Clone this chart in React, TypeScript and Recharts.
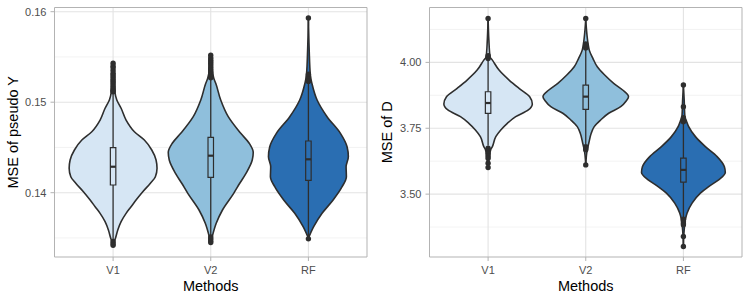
import React from 'react';
import { ComposedChart, Area, XAxis, YAxis, CartesianGrid, ReferenceLine, ReferenceDot, ReferenceArea } from 'recharts';

const methods = ['V1', 'V2', 'RF'];
const fills = ['#d6e6f4', '#8fbfdc', '#2a6eb2'];

// ---- Panel 1: MSE of pseudo Y ----  [value, half-width of violin]
const pyViolinV1: [number, number][] = [
  [0.13422, 0], [0.13496, 0.024], [0.13588, 0.048], [0.1368, 0.082], [0.13772, 0.133], [0.13845, 0.184],
  [0.13919, 0.235], [0.14011, 0.304], [0.14104, 0.382], [0.14177, 0.433], [0.1427, 0.45], [0.14361, 0.44],
  [0.14472, 0.396], [0.14582, 0.32], [0.14674, 0.218], [0.14803, 0.133], [0.14933, 0.082], [0.15024, 0.038],
  [0.15113, 0.018], [0.15245, 0.01], [0.15436, 0],
];
const pyViolinV2: [number, number][] = [
  [0.13448, 0], [0.13514, 0.015], [0.13662, 0.056], [0.13809, 0.12], [0.13993, 0.235], [0.14104, 0.297],
  [0.14214, 0.361], [0.14361, 0.425], [0.14444, 0.435], [0.14546, 0.394], [0.14656, 0.307], [0.1484, 0.179],
  [0.15024, 0.102], [0.15209, 0.051], [0.15264, 0.031], [0.154, 0.01], [0.15522, 0],
];
const pyViolinRF: [number, number][] = [
  [0.13496, 0], [0.13624, 0.054], [0.13772, 0.14], [0.13919, 0.253], [0.14066, 0.345], [0.14177, 0.389],
  [0.14287, 0.386], [0.14398, 0.409], [0.14508, 0.396], [0.14656, 0.328], [0.1484, 0.191], [0.15024, 0.089],
  [0.1519, 0.04], [0.15301, 0.02], [0.15577, 0.008], [0.15927, 0],
];
const pyQ1 = [0.14085, 0.1417, 0.14137];
const pyMedian = [0.14287, 0.14409, 0.14369];
const pyQ3 = [0.14497, 0.14612, 0.14571];
const pyWhiskerLow = [0.1347, 0.13514, 0.13496];
const pyWhiskerHigh = [0.1511, 0.15264, 0.1522];
const pyOutliers: number[][] = [
  [0.15115, 0.15125, 0.1514, 0.1516, 0.1518, 0.152, 0.1522, 0.1524, 0.1526, 0.1528, 0.153, 0.1532, 0.1535, 0.1538, 0.154, 0.1543, 0.1346, 0.1344, 0.1342],
  [0.1527, 0.1529, 0.1531, 0.1533, 0.1535, 0.1537, 0.1539, 0.1541, 0.1543, 0.1545, 0.1547, 0.1549, 0.1552, 0.1351, 0.1349, 0.1347, 0.1345],
  [0.1523, 0.1525, 0.1527, 0.1529, 0.1531, 0.1593, 0.1349],
];
const pyTicks = [0.14, 0.15, 0.16];
const pyMinor = [0.135, 0.145, 0.155];
const pyDomain: [number, number] = [0.132895, 0.160464];

// ---- Panel 2: MSE of D ----
const dViolinV1: [number, number][] = [
  [3.5985, 0], [3.6375, 0.012], [3.6678, 0.026], [3.6803, 0.044], [3.7182, 0.079], [3.7436, 0.13],
  [3.7689, 0.197], [3.7939, 0.283], [3.8193, 0.412], [3.842, 0.453], [3.8697, 0.426], [3.9015, 0.317],
  [3.933, 0.215], [3.9708, 0.112], [4.0087, 0.044], [4.0212, 0.02], [4.0845, 0.008], [4.1667, 0],
];
const dViolinV2: [number, number][] = [
  [3.611, 0], [3.6678, 0.015], [3.6932, 0.031], [3.7311, 0.056], [3.7561, 0.087], [3.7814, 0.153],
  [3.8068, 0.235], [3.8318, 0.358], [3.8534, 0.414], [3.8697, 0.438], [3.8951, 0.378], [3.9205, 0.286],
  [3.9519, 0.194], [3.9833, 0.118], [4.0163, 0.072], [4.0466, 0.036], [4.0655, 0.026], [4.1223, 0.008], [4.1667, 0],
];
const dViolinRF: [number, number][] = [
  [3.3042, 0], [3.364, 0.008], [3.4027, 0.02], [3.428, 0.038], [3.4659, 0.089], [3.5038, 0.174],
  [3.5288, 0.259], [3.5542, 0.361], [3.5818, 0.429], [3.6045, 0.419], [3.6424, 0.345], [3.6803, 0.225],
  [3.7182, 0.123], [3.7561, 0.054], [3.7777, 0.031], [3.7939, 0.015], [3.8572, 0.008], [3.914, 0],
];
const dQ1 = [3.8068, 3.822, 3.5455];
const dMedian = [3.8458, 3.87, 3.592];
const dQ3 = [3.8886, 3.914, 3.6364];
const dWhiskerLow = [3.685, 3.69, 3.41];
const dWhiskerHigh = [4.011, 4.05, 3.77];
const dOutliers: number[][] = [
  [4.015, 4.02, 4.025, 4.1667, 3.674, 3.668, 3.655, 3.645, 3.636, 3.617, 3.601],
  [4.055, 4.06, 4.065, 4.07, 4.1667, 3.68, 3.674, 3.668, 3.611],
  [3.775, 3.78, 3.785, 3.79, 3.8318, 3.9139, 3.405, 3.398, 3.39, 3.384, 3.339, 3.301],
];
const dTicks = [3.5, 3.75, 4.0];
const dMinor = [3.375, 3.625, 3.875, 4.125];
const dDomain: [number, number] = [3.2614, 4.2083];

const INK = '#2e2e2e';
const BOX_HALF = 0.028;

type PanelProps = {
  yLabel: string;
  yLabelX: number;
  violins: [number, number][][];
  q1: number[];
  med: number[];
  q3: number[];
  lo: number[];
  hi: number[];
  outliers: number[][];
  ticks: number[];
  minor: number[];
  domain: [number, number];
};

function Panel(p: PanelProps) {
  const violinRows = p.violins.map((v, i) =>
    v.map(([y, w]) => ({ y, r: [i + 1 - w, i + 1 + w] }))
  );
  const boxRows = methods.map((_, i) => {
    const c = i + 1;
    return [
      { y: p.q1[i], r: [c, c] },
      { y: p.q1[i], r: [c - BOX_HALF, c + BOX_HALF] },
      { y: p.q3[i], r: [c - BOX_HALF, c + BOX_HALF] },
      { y: p.q3[i], r: [c, c] },
    ];
  });
  const tickStyle = { fontSize: 11, fill: '#4d4d4d', fontFamily: '"Liberation Sans", Arial, sans-serif' };
  return (
    <ComposedChart
      width={375}
      height={300}
      layout="vertical"
      margin={{ top: 7.5, right: 8, bottom: 0, left: 0 }}
    >
      <CartesianGrid horizontalValues={p.minor} vertical={false} stroke="#f0f0f0" strokeWidth={0.8} />
      <CartesianGrid horizontalValues={p.ticks} verticalValues={[1, 2, 3]} stroke="#e3e3e3" strokeWidth={1.1} />
      <XAxis
        type="number"
        domain={[0.4, 3.6]}
        ticks={[1, 2, 3]}
        interval={0}
        allowDataOverflow
        tickFormatter={(v: number) => methods[Math.round(v) - 1]}
        height={43}
        axisLine={false}
        tickLine={{ stroke: '#b3b3b3' }}
        tickSize={4}
        tickMargin={5}
        tick={tickStyle}
        label={{
          value: 'Methods',
          position: 'insideBottom',
          offset: 9.5,
          style: { fontSize: 14.5, fill: '#000', fontFamily: '"Liberation Sans", Arial, sans-serif' },
        }}
      />
      <YAxis
        type="number"
        dataKey="y"
        domain={p.domain}
        ticks={p.ticks}
        interval={0}
        allowDataOverflow
        reversed
        width={54.5}
        axisLine={false}
        tickLine={{ stroke: '#b3b3b3' }}
        tickSize={4}
        tickMargin={4}
        tick={tickStyle}
        tickFormatter={(v: number) => v.toFixed(2)}
        label={{
          value: p.yLabel,
          content: (props: any) => {
            const vb = props.viewBox || { x: 0, y: 0, height: 250 };
            const cx = vb.x + p.yLabelX;
            const cy = vb.y + vb.height / 2;
            return (
              <text
                x={cx}
                y={cy}
                transform={`rotate(-90, ${cx}, ${cy})`}
                textAnchor="middle"
                dominantBaseline="central"
                fontSize={14.5}
                fill="#000"
                fontFamily='"Liberation Sans", Arial, sans-serif'
              >
                {p.yLabel}
              </text>
            );
          },
        }}
      />
      {violinRows.map((rows, i) => (
        <Area
          key={'v' + i}
          data={rows}
          dataKey="r"
          type="monotone"
          fill={fills[i]}
          fillOpacity={1}
          stroke={INK}
          strokeWidth={1.6}
          dot={false}
          activeDot={false}
          isAnimationActive={false}
        />
      ))}
      {boxRows.map((rows, i) => (
        <Area
          key={'b' + i}
          data={rows}
          dataKey="r"
          type="linear"
          fill={fills[i]}
          fillOpacity={1}
          stroke={INK}
          strokeWidth={1.2}
          dot={false}
          activeDot={false}
          isAnimationActive={false}
        />
      ))}
      {methods.map((_, i) => (
        <ReferenceLine key={'wl' + i} segment={[{ x: i + 1, y: p.lo[i] }, { x: i + 1, y: p.q1[i] }]} stroke={INK} strokeWidth={1.3} />
      ))}
      {methods.map((_, i) => (
        <ReferenceLine key={'wh' + i} segment={[{ x: i + 1, y: p.q3[i] }, { x: i + 1, y: p.hi[i] }]} stroke={INK} strokeWidth={1.3} />
      ))}
      {methods.map((_, i) => (
        <ReferenceLine
          key={'md' + i}
          segment={[{ x: i + 1 - BOX_HALF, y: p.med[i] }, { x: i + 1 + BOX_HALF, y: p.med[i] }]}
          stroke={INK}
          strokeWidth={2.2}
        />
      ))}
      {p.outliers.flatMap((vals, i) =>
        vals.map((v, j) => (
          <ReferenceDot key={'o' + i + '-' + j} x={i + 1} y={v} r={2.7} fill={INK} stroke="none" />
        ))
      )}
      <ReferenceArea x1={0.4} x2={3.6} y1={p.domain[0]} y2={p.domain[1]} fill="none" fillOpacity={0} stroke="#b3b3b3" strokeWidth={1} />
    </ComposedChart>
  );
}

export default function App() {
  return (
    <div
      style={{
        position: 'absolute',
        left: 0,
        top: 0,
        width: 750,
        height: 300,
        background: '#ffffff',
        display: 'flex',
        fontFamily: '"Liberation Sans", Arial, sans-serif',
      }}
    >
      <Panel
        yLabel="MSE of pseudo Y"
        yLabelX={12.5}
        violins={[pyViolinV1, pyViolinV2, pyViolinRF]}
        q1={pyQ1}
        med={pyMedian}
        q3={pyQ3}
        lo={pyWhiskerLow}
        hi={pyWhiskerHigh}
        outliers={pyOutliers}
        ticks={pyTicks}
        minor={pyMinor}
        domain={pyDomain}
      />
      <Panel
        yLabel="MSE of D"
        yLabelX={11.5}
        violins={[dViolinV1, dViolinV2, dViolinRF]}
        q1={dQ1}
        med={dMedian}
        q3={dQ3}
        lo={dWhiskerLow}
        hi={dWhiskerHigh}
        outliers={dOutliers}
        ticks={dTicks}
        minor={dMinor}
        domain={dDomain}
      />
    </div>
  );
}
